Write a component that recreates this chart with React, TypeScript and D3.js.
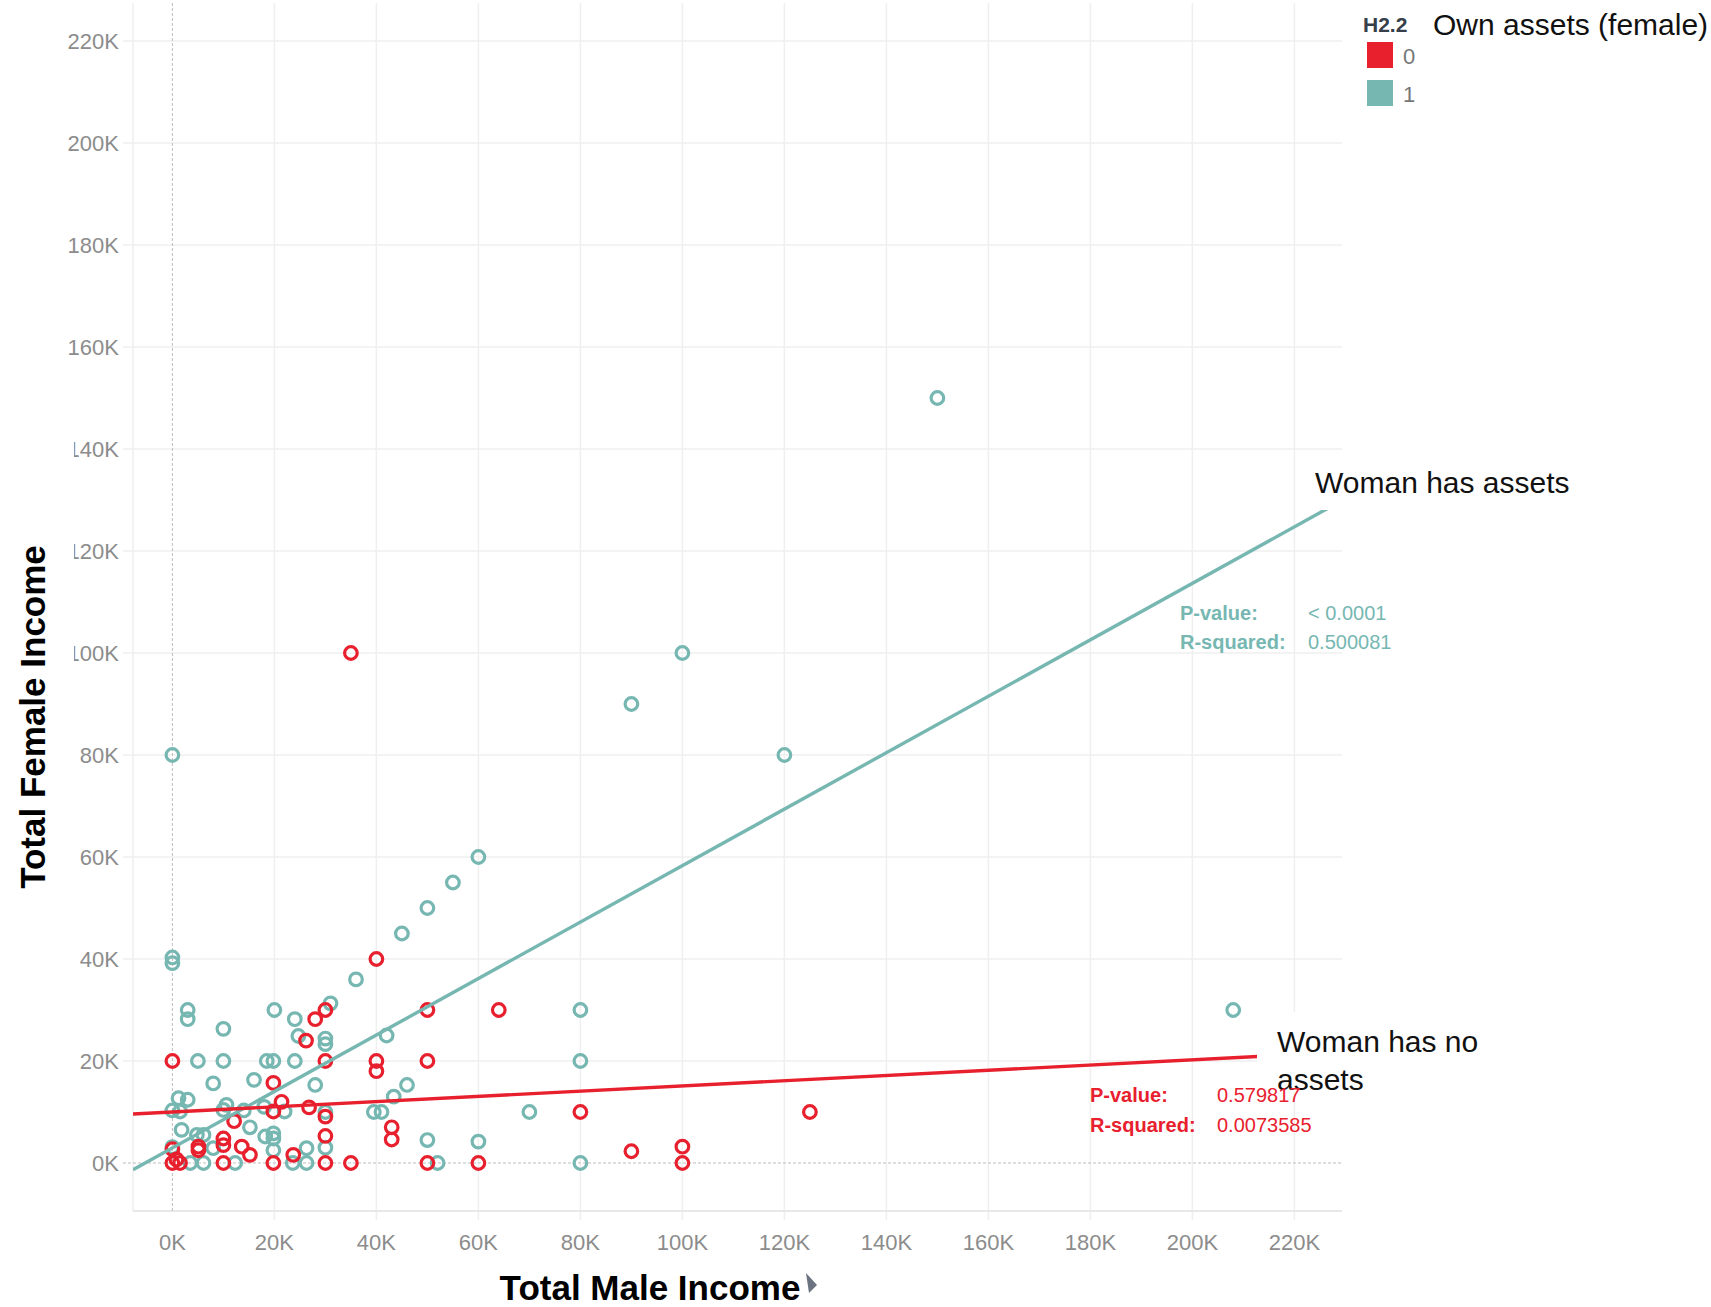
import React from "react";
import * as d3 from "d3";

// ---------- data (values in currency units) ----------
const assetsGroups = ["0", "1"];
const groupColors = ["#e8202e", "#76b7b2"];
const legendTitle = "H2.2";
const legendField = "Own assets (female)";
const xTitle = "Total Male Income";
const yTitle = "Total Female Income";

const xTicks = [0, 20000, 40000, 60000, 80000, 100000, 120000, 140000, 160000, 180000, 200000, 220000];
const yTicks = [0, 20000, 40000, 60000, 80000, 100000, 120000, 140000, 160000, 180000, 200000, 220000];

// group "1": woman owns assets  [male income, female income]
const pointsAssets: [number, number][] = [
  [0, 80000], [0, 40300], [0, 39200], [3000, 30000], [3000, 28200], [10000, 26300], [20000, 30000],
  [24000, 28200], [31000, 31300], [24700, 24900], [30000, 24400], [30000, 23300], [5000, 20000],
  [10000, 20000], [18500, 20000], [19800, 20000], [24000, 20000], [8000, 15600], [16000, 16300],
  [28000, 15300], [1200, 12700], [3000, 12400], [0, 10300], [1500, 10100], [10600, 11400],
  [10000, 10400], [14000, 10300], [18000, 11000], [22000, 10100], [30000, 10000], [15200, 7000],
  [1800, 6500], [4800, 5500], [6100, 5500], [18200, 5200], [19800, 5800], [19800, 4800], [0, 3100],
  [8000, 2900], [19800, 2500], [26300, 2900], [30000, 3000], [3500, 0], [6100, 0], [12300, 0],
  [23600, 0], [26300, 0], [36000, 36000], [45000, 45000], [50000, 50000], [55000, 55000],
  [60000, 60000], [42000, 25000], [46000, 15300], [43400, 13000], [39500, 10000], [41000, 10000],
  [70000, 10000], [50000, 4500], [60000, 4200], [52000, 0], [80000, 30000], [80000, 20000],
  [80000, 0], [90000, 90000], [100000, 100000], [120000, 80000], [150000, 150000], [208000, 30000],
];

// group "0": woman has no assets
const pointsNoAssets: [number, number][] = [
  [0, 20000], [28000, 28200], [30000, 30000], [26200, 24000], [30000, 20000], [19800, 15700],
  [21400, 12000], [19800, 10100], [26800, 10900], [30000, 9100], [12100, 8200], [30000, 5300],
  [10000, 4800], [10000, 3500], [5100, 3200], [5100, 2500], [0, 2700], [13600, 3200], [15200, 1600],
  [23700, 1600], [0, 0], [1500, 0], [800, 700], [10000, 0], [19800, 0], [30000, 0], [35000, 0],
  [35000, 100000], [40000, 40000], [50000, 30000], [64000, 30000], [40000, 20000], [40000, 18000],
  [50000, 20000], [43000, 7000], [43000, 4600], [50000, 0], [60000, 0], [80000, 10000],
  [90000, 2300], [100000, 3200], [100000, 0], [125000, 10000],
];

// linear trend lines: [slope, intercept] for groups "0" and "1"
const trendSlopes = [0.0511, 0.5536];
const trendIntercepts = [10000, 2950];
const pValues = ["0.579817", "< 0.0001"];
const rSquared = ["0.0073585", "0.500081"];
const annotations = ["Woman has no assets", "Woman has assets"];

const FONT = "'Liberation Sans', Arial, sans-serif";

export default function App() {
  const W = 1711, H = 1307;
  const left = 133, right = 1342, top = 3, bottom = 1211;
  const x = d3.scaleLinear().domain([-7725, 229333]).range([left, right]);
  const y = d3.scaleLinear().domain([-9412, 227451]).range([bottom, top]);
  const fmt = (v: number) => `${v / 1000}K`;

  const trendPath = (i: number) => {
    const xs = x.domain();
    const line = d3.line<number>().x((d) => x(d)).y((d) => y(trendSlopes[i] * d + trendIntercepts[i]));
    return line(xs) || "";
  };

  const gridColor = "#efefef";
  const tickColor = "#8c8c8c";

  return (
    <svg width={W} height={H} style={{ position: "absolute", left: 0, top: 0, display: "block", background: "#fff" }}>
      <defs>
        <clipPath id="plotClip">
          <rect x={left} y={top} width={right - left} height={bottom - top} />
        </clipPath>
      </defs>
      <rect x={0} y={0} width={W} height={H} fill="#fff" />

      {/* gridlines */}
      {xTicks.filter((t) => t !== 0).map((t) => (
        <line key={"gx" + t} x1={x(t)} x2={x(t)} y1={top} y2={bottom + 9} stroke={gridColor} strokeWidth={1.5} />
      ))}
      {yTicks.filter((t) => t !== 0).map((t) => (
        <line key={"gy" + t} x1={left - 10} x2={right} y1={y(t)} y2={y(t)} stroke={gridColor} strokeWidth={1.5} />
      ))}
      <line x1={left} x2={left} y1={top} y2={bottom} stroke={gridColor} strokeWidth={1.5} />
      <line x1={left} x2={right} y1={bottom} y2={bottom} stroke="#e8e8e8" strokeWidth={2} />
      {/* zero lines */}
      <line x1={x(0)} x2={x(0)} y1={top} y2={bottom} stroke="#bdbdbd" strokeWidth={1} strokeDasharray="3,2" />
      <line x1={left - 10} x2={right} y1={y(0)} y2={y(0)} stroke="#bdbdbd" strokeWidth={1} strokeDasharray="3,2" />

      {/* marks */}
      <g clipPath="url(#plotClip)">
        {pointsAssets.map((p, i) => (
          <circle key={"a" + i} cx={x(p[0])} cy={y(p[1])} r={6.3} fill="none" stroke={groupColors[1]} strokeWidth={3.2} />
        ))}
        {pointsNoAssets.map((p, i) => (
          <circle key={"n" + i} cx={x(p[0])} cy={y(p[1])} r={6.3} fill="none" stroke={groupColors[0]} strokeWidth={3.2} />
        ))}
        <path d={trendPath(1)} stroke={groupColors[1]} strokeWidth={3.4} fill="none" />
        <path d={trendPath(0)} stroke={groupColors[0]} strokeWidth={3.4} fill="none" />
      </g>

      {/* annotation boxes */}
      <rect x={1305} y={455} width={W - 1305} height={55} fill="#fff" />
      <rect x={1257} y={1012} width={W - 1257} height={80} fill="#fff" />
      <text x={1315} y={493} fontFamily={FONT} fontSize={30} fill="#111">{annotations[1]}</text>
      <text fontFamily={FONT} fontSize={30} fill="#111">
        <tspan x={1277} y={1052}>Woman has no</tspan>
        <tspan x={1277} y={1090}>assets</tspan>
      </text>

      {/* stats */}
      <g fontFamily={FONT} fontSize={20} fill={groupColors[1]}>
        <text x={1180} y={620} fontWeight="bold">P-value:</text>
        <text x={1180} y={649} fontWeight="bold">R-squared:</text>
        <text x={1308} y={620}>{pValues[1]}</text>
        <text x={1308} y={649}>{rSquared[1]}</text>
      </g>
      <g fontFamily={FONT} fontSize={20} fill={groupColors[0]}>
        <text x={1090} y={1102} fontWeight="bold">P-value:</text>
        <text x={1090} y={1132} fontWeight="bold">R-squared:</text>
        <text x={1217} y={1102}>{pValues[0]}</text>
        <text x={1217} y={1132}>{rSquared[0]}</text>
      </g>

      {/* axis tick labels */}
      {yTicks.map((t) => (
        <text key={"ly" + t} x={119} y={y(t)} dy="0.35em" textAnchor="end" fontFamily={FONT} fontSize={22} fill={tickColor}>
          {fmt(t)}
        </text>
      ))}
      {xTicks.map((t) => (
        <text key={"lx" + t} x={x(t)} y={1250} textAnchor="middle" fontFamily={FONT} fontSize={22} fill={tickColor}>
          {fmt(t)}
        </text>
      ))}

      {/* y title with its background box */}
      <rect x={0} y={400} width={74} height={600} fill="#fff" />
      <text transform="translate(45,717) rotate(-90)" textAnchor="middle" fontFamily={FONT} fontWeight="bold" fontSize={35} fill="#000">
        {yTitle}
      </text>
      <text x={650} y={1300} textAnchor="middle" fontFamily={FONT} fontWeight="bold" fontSize={35} fill="#000">
        {xTitle}
      </text>
      <path d="M806,1273 L817,1285 L809,1293 Z" fill="#6b7380" />

      {/* legend */}
      <text x={1363} y={32} fontFamily={FONT} fontWeight="bold" fontSize={21} fill="#37404a">{legendTitle}</text>
      <text x={1433} y={35} fontFamily={FONT} fontSize={30} fill="#111">{legendField}</text>
      {assetsGroups.map((g, i) => (
        <g key={"lg" + g}>
          <rect x={1367} y={42 + i * 38} width={26} height={26} fill={groupColors[i]} />
          <text x={1403} y={56 + i * 38} dy="0.35em" fontFamily={FONT} fontSize={22} fill="#777">{g}</text>
        </g>
      ))}
    </svg>
  );
}
